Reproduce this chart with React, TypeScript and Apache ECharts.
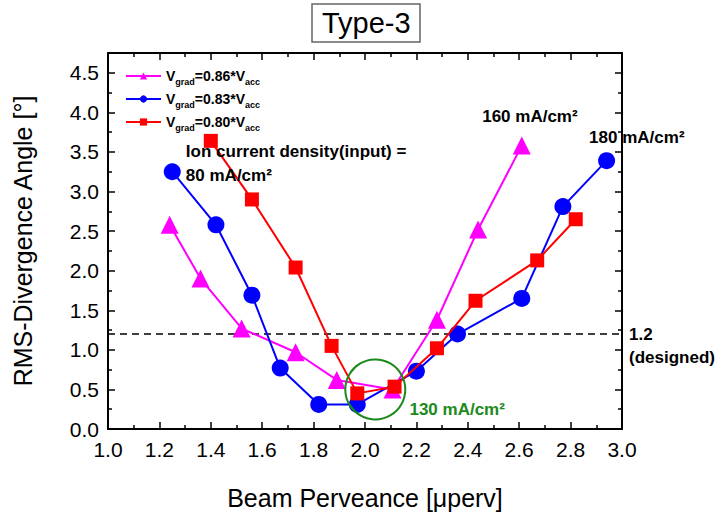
import React, { useEffect, useRef } from 'react';
import * as echarts from 'echarts';

// ---- data ----
const seriesNames = ['Vgrad=0.86*Vacc', 'Vgrad=0.83*Vacc', 'Vgrad=0.80*Vacc'];
const seriesRich = [
  '{b|V}{s|grad}{b|=0.86*V}{s|acc}',
  '{b|V}{s|grad}{b|=0.83*V}{s|acc}',
  '{b|V}{s|grad}{b|=0.80*V}{s|acc}',
];
const magentaX = [1.24, 1.36, 1.52, 1.73, 1.89, 2.107, 2.28, 2.44, 2.61];
const magentaY = [2.58, 1.9, 1.27, 0.97, 0.62, 0.5, 1.38, 2.52, 3.58];
const blueX = [1.25, 1.42, 1.56, 1.67, 1.82, 1.97, 2.2, 2.36, 2.61, 2.77, 2.94];
const blueY = [3.25, 2.58, 1.69, 0.77, 0.31, 0.31, 0.73, 1.2, 1.65, 2.81, 3.39];
const redX = [1.4, 1.56, 1.73, 1.87, 1.97, 2.115, 2.28, 2.43, 2.67, 2.82];
const redY = [3.64, 2.9, 2.04, 1.05, 0.45, 0.535, 1.02, 1.62, 2.13, 2.65];
const designedLevel = 1.2;
const circleCenter = [2.04, 0.5];
const xRange = [1.0, 3.0];
const yRange = [0, 4.75];
const xInterval = 0.2;
const yInterval = 0.5;

const annotations = [
  { text: 'Ion current density(input) =\n80 mA/cm²', x: 1.303, y: 3.35, color: '#000' },
  { text: '160 mA/cm²', x: 2.456, y: 3.947, color: '#000' },
  { text: '180 mA/cm²', x: 2.872, y: 3.682, color: '#000' },
  { text: '130 mA/cm²', x: 2.173, y: 0.252, color: '#1a8a1a' },
];

const FONT = 'Liberation Sans, Arial, sans-serif';

const zip = (xs: number[], ys: number[]) => xs.map((x, i) => [x, ys[i]]);

export default function App() {
  const ref = useRef<HTMLDivElement>(null);
  useEffect(() => {
    if (!ref.current) return;
    const chart = echarts.init(ref.current, undefined, { renderer: 'svg' });
    const axisCommon = {
      axisLine: { show: true, onZero: false, lineStyle: { color: '#000', width: 2 } },
      axisTick: { show: true, inside: true, length: 7, lineStyle: { color: '#000', width: 1.5 } },
      minorTick: { show: true, splitNumber: 2, length: 4, lineStyle: { color: '#000', width: 1.5 } },
      splitLine: { show: false },
      minorSplitLine: { show: false },
    };
    const option: any = {
      animation: false,
      backgroundColor: '#fff',
      title: {
        text: 'Type-3',
        left: 312,
        top: 4,
        padding: [3, 10, 3, 10],
        borderColor: '#666',
        borderWidth: 1.5,
        textStyle: { fontFamily: FONT, fontSize: 29, fontWeight: 'normal', color: '#000', lineHeight: 32 },
      },
      legend: {
        data: seriesNames,
        orient: 'vertical',
        left: 120,
        top: 64,
        itemWidth: 35,
        itemHeight: 9,
        itemGap: 6,
        formatter: (name: string) => seriesRich[seriesNames.indexOf(name)],
        textStyle: {
          rich: {
            b: { fontFamily: FONT, fontSize: 14, fontWeight: 'bold', color: '#000', lineHeight: 20, verticalAlign: 'middle' },
            s: { fontFamily: FONT, fontSize: 9, fontWeight: 'bold', color: '#000', lineHeight: 20, verticalAlign: 'bottom' },
          },
        },
      },
      grid: { left: 108, right: 98, top: 53, bottom: 85, containLabel: false },
      xAxis: [
        {
          type: 'value',
          position: 'bottom',
          min: xRange[0],
          max: xRange[1],
          interval: xInterval,
          ...axisCommon,
          axisLabel: {
            margin: 10,
            fontFamily: FONT,
            fontSize: 21,
            color: '#000',
            formatter: (v: number) => v.toFixed(1),
          },
          name: 'Beam Perveance [μperv]',
          nameLocation: 'middle',
          nameGap: 56,
          nameTextStyle: { fontFamily: FONT, fontSize: 25, color: '#000' },
        },
        {
          type: 'value',
          position: 'top',
          min: xRange[0],
          max: xRange[1],
          interval: xInterval,
          ...axisCommon,
          axisLabel: { show: false },
        },
      ],
      yAxis: [
        {
          type: 'value',
          position: 'left',
          min: yRange[0],
          max: yRange[1],
          interval: yInterval,
          ...axisCommon,
          axisLabel: {
            margin: 9,
            showMaxLabel: false,
            fontFamily: FONT,
            fontSize: 21,
            color: '#000',
            formatter: (v: number) => (Math.abs(v / 0.5 - Math.round(v / 0.5)) < 1e-6 ? v.toFixed(1) : ''),
          },
          name: 'RMS-Divergence Angle [°]',
          nameLocation: 'middle',
          nameGap: 73,
          nameTextStyle: { fontFamily: FONT, fontSize: 25, color: '#000' },
        },
        {
          type: 'value',
          position: 'right',
          min: yRange[0],
          max: yRange[1],
          interval: yInterval,
          ...axisCommon,
          axisLabel: { show: false },
        },
      ],
      series: [
        {
          name: seriesNames[0],
          type: 'line',
          data: zip(magentaX, magentaY),
          symbol: 'triangle',
          symbolSize: 18,
          lineStyle: { color: '#ff00ff', width: 2 },
          itemStyle: { color: '#ff00ff' },
          z: 2,
        },
        {
          name: seriesNames[1],
          type: 'line',
          data: zip(blueX, blueY),
          symbol: 'circle',
          symbolSize: 17,
          lineStyle: { color: '#0000ff', width: 2 },
          itemStyle: { color: '#0000ff' },
          z: 3,
        },
        {
          name: seriesNames[2],
          type: 'line',
          data: zip(redX, redY),
          symbol: 'rect',
          symbolSize: 14,
          lineStyle: { color: '#ff0000', width: 2 },
          itemStyle: { color: '#ff0000' },
          z: 4,
        },
        {
          name: 'designed',
          type: 'line',
          data: [[xRange[0], designedLevel], [xRange[1], designedLevel]],
          symbol: 'none',
          silent: true,
          lineStyle: { color: '#000', width: 1.6, type: [7, 5] },
          z: 1,
          endLabel: {
            show: true,
            formatter: '1.2\n(designed)',
            fontFamily: FONT,
            fontSize: 17,
            fontWeight: 'bold',
            color: '#000',
            lineHeight: 23,
            distance: 7,
            offset: [0, 12],
          },
        },
        {
          name: 'circle',
          type: 'scatter',
          data: [circleCenter],
          symbol: 'circle',
          symbolSize: 60,
          silent: true,
          itemStyle: { color: 'rgba(0,0,0,0)', borderColor: '#1a8a1a', borderWidth: 2, opacity: 1 },
          z: 5,
        },
        {
          name: 'notes',
          type: 'scatter',
          clip: false,
          silent: true,
          symbolSize: 0,
          itemStyle: { opacity: 1 },
          data: annotations.map((a) => ({
            value: [a.x, a.y],
            label: {
              show: true,
              position: 'right',
              distance: 0,
              formatter: a.text,
              color: a.color,
              fontFamily: FONT,
              fontSize: 17,
              fontWeight: 'bold',
              lineHeight: 24,
              align: 'left',
              verticalAlign: 'middle',
            },
          })),
          z: 6,
        },
      ],
    };
    chart.setOption(option);
    return () => chart.dispose();
  }, []);
  return <div ref={ref} style={{ position: 'fixed', left: 0, top: 0, width: 720, height: 515 }} />;
}
